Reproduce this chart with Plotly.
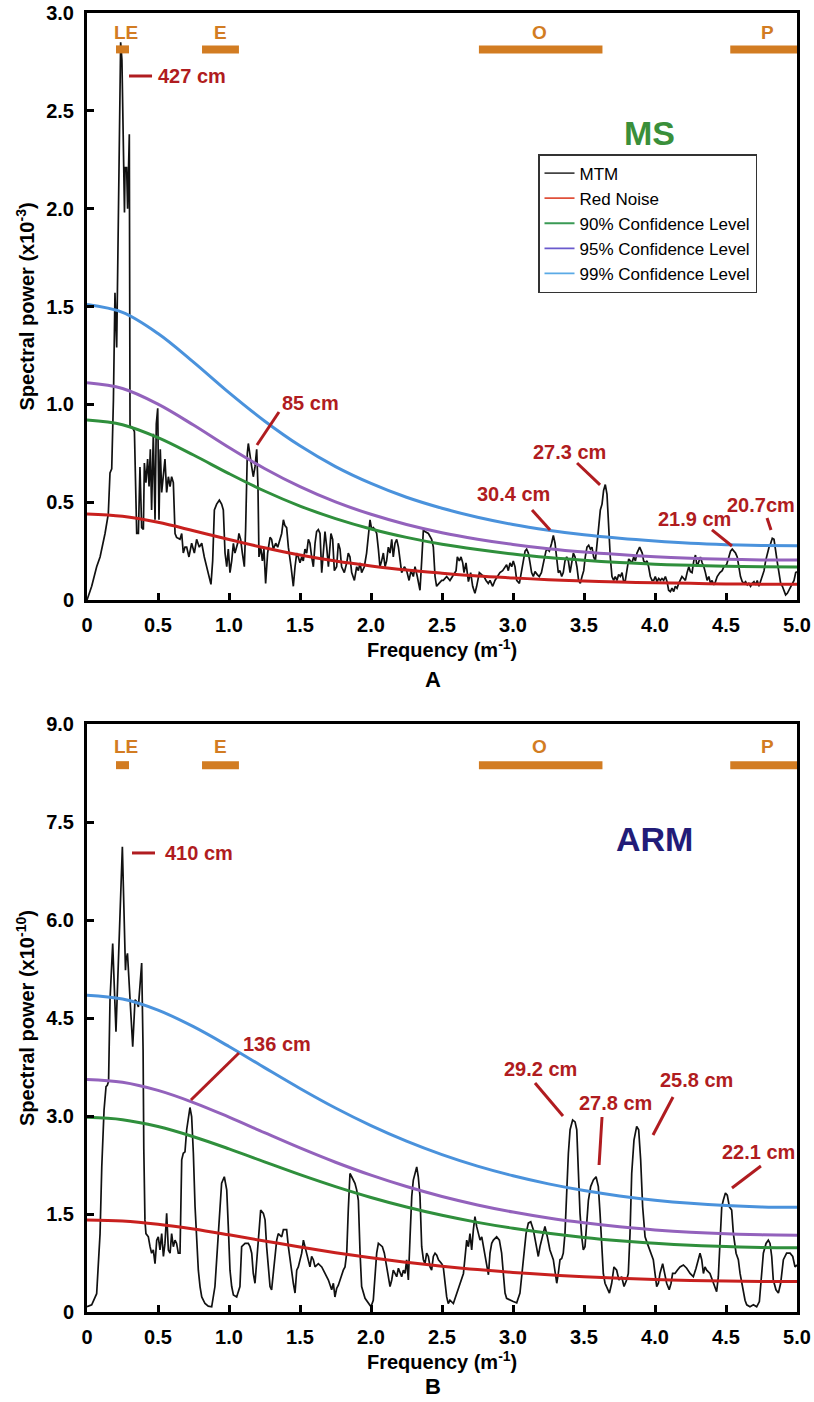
import plotly.graph_objects as go

# ---------------------------------------------------------------------------
# Data
# ---------------------------------------------------------------------------
# Frequency grid (m^-1) for the red-noise model and its confidence levels
freq_grid = [0.0, 0.25, 0.5, 0.75, 1.0, 1.25, 1.5, 1.75, 2.0, 2.25, 2.5,
             2.75, 3.0, 3.25, 3.5, 3.75, 4.0, 4.25, 4.5, 4.75, 5.0]

# Panel A - magnetic susceptibility (MS), spectral power x10^-3
ms_red_noise = [0.440, 0.428, 0.397, 0.354, 0.309, 0.267, 0.230, 0.199, 0.174, 0.153, 0.137,
                0.123, 0.113, 0.104, 0.097, 0.092, 0.088, 0.085, 0.082, 0.081, 0.081]
ms_cl90 = [0.920, 0.896, 0.830, 0.741, 0.646, 0.557, 0.480, 0.416, 0.363, 0.320, 0.285,
           0.258, 0.235, 0.217, 0.203, 0.192, 0.183, 0.177, 0.172, 0.170, 0.169]
ms_cl95 = [1.110, 1.081, 1.001, 0.894, 0.779, 0.672, 0.579, 0.501, 0.438, 0.386, 0.344,
           0.311, 0.284, 0.262, 0.245, 0.232, 0.221, 0.213, 0.208, 0.205, 0.204]
ms_cl99 = [1.510, 1.470, 1.362, 1.216, 1.060, 0.915, 0.788, 0.682, 0.596, 0.525, 0.469,
           0.423, 0.386, 0.357, 0.333, 0.315, 0.301, 0.290, 0.283, 0.279, 0.277]

ms_freq = [
    0.000, 0.033, 0.068, 0.092, 0.127, 0.150, 0.162, 0.174, 0.186, 0.197, 0.209, 0.223,
    0.237, 0.246, 0.260, 0.264, 0.268, 0.279, 0.286, 0.298, 0.303, 0.322, 0.334, 0.350,
    0.362, 0.373, 0.385, 0.397, 0.404, 0.415, 0.427, 0.437, 0.446, 0.455, 0.467, 0.479,
    0.488, 0.498, 0.507, 0.516, 0.526, 0.538, 0.549, 0.561, 0.573, 0.585, 0.596, 0.608,
    0.620, 0.631, 0.655, 0.667, 0.678, 0.690, 0.702, 0.718, 0.737, 0.756, 0.772, 0.791,
    0.808, 0.826, 0.843, 0.859, 0.873, 0.885, 0.897, 0.913, 0.932, 0.948, 0.960, 0.972,
    0.984, 0.995, 1.007, 1.019, 1.031, 1.042, 1.061, 1.070, 1.082, 1.094, 1.108, 1.117,
    1.129, 1.136, 1.148, 1.160, 1.171, 1.183, 1.195, 1.204, 1.211, 1.223, 1.235, 1.246,
    1.258, 1.272, 1.289, 1.300, 1.312, 1.329, 1.343, 1.359, 1.371, 1.383, 1.394, 1.406,
    1.418, 1.437, 1.453, 1.465, 1.477, 1.488, 1.500, 1.512, 1.523, 1.535, 1.547, 1.559,
    1.570, 1.582, 1.594, 1.606, 1.617, 1.629, 1.641, 1.653, 1.664, 1.676, 1.688, 1.700,
    1.718, 1.730, 1.742, 1.758, 1.770, 1.782, 1.793, 1.812, 1.829, 1.840, 1.852, 1.864,
    1.883, 1.899, 1.911, 1.923, 1.934, 1.953, 1.969, 1.981, 1.993, 2.005, 2.016, 2.028,
    2.040, 2.052, 2.063, 2.075, 2.087, 2.099, 2.110, 2.122, 2.134, 2.146, 2.157, 2.169,
    2.181, 2.193, 2.204, 2.216, 2.235, 2.251, 2.268, 2.282, 2.298, 2.310, 2.326, 2.345,
    2.357, 2.369, 2.380, 2.404, 2.427, 2.439, 2.451, 2.462, 2.479, 2.498, 2.509, 2.533,
    2.556, 2.580, 2.599, 2.608, 2.622, 2.634, 2.646, 2.655, 2.669, 2.686, 2.702, 2.716,
    2.732, 2.744, 2.763, 2.779, 2.796, 2.810, 2.826, 2.838, 2.857, 2.873, 2.890, 2.908,
    2.927, 2.944, 2.955, 2.967, 2.979, 2.991, 3.002, 3.014, 3.026, 3.045, 3.061, 3.073,
    3.085, 3.096, 3.108, 3.120, 3.131, 3.143, 3.155, 3.171, 3.185, 3.200, 3.213, 3.225,
    3.232, 3.241, 3.256, 3.272, 3.284, 3.296, 3.308, 3.319, 3.331, 3.343, 3.354, 3.366,
    3.378, 3.390, 3.402, 3.413, 3.425, 3.437, 3.450, 3.462, 3.474, 3.486, 3.498, 3.509,
    3.521, 3.533, 3.545, 3.556, 3.568, 3.580, 3.592, 3.603, 3.615, 3.627, 3.638, 3.650,
    3.662, 3.673, 3.685, 3.697, 3.709, 3.720, 3.732, 3.744, 3.756, 3.768, 3.779, 3.791,
    3.803, 3.815, 3.826, 3.838, 3.850, 3.862, 3.873, 3.892, 3.910, 3.920, 3.932, 3.944,
    3.955, 3.967, 3.979, 3.991, 4.002, 4.014, 4.026, 4.038, 4.049, 4.061, 4.073, 4.085,
    4.096, 4.108, 4.120, 4.132, 4.143, 4.155, 4.167, 4.179, 4.190, 4.202, 4.214, 4.226,
    4.238, 4.249, 4.261, 4.273, 4.285, 4.296, 4.308, 4.320, 4.332, 4.344, 4.355, 4.367,
    4.379, 4.391, 4.402, 4.414, 4.426, 4.438, 4.457, 4.473, 4.485, 4.504, 4.520, 4.532,
    4.544, 4.555, 4.567, 4.579, 4.591, 4.602, 4.614, 4.626, 4.638, 4.650, 4.661, 4.673,
    4.685, 4.697, 4.709, 4.720, 4.732, 4.744, 4.756, 4.768, 4.779, 4.791, 4.803, 4.815,
    4.826, 4.838, 4.850, 4.862, 4.873, 4.885, 4.897, 4.909, 4.920, 4.932, 4.944, 4.956,
    4.968, 4.979, 4.991, 5.000]
ms_power = [
    0.00, 0.07, 0.17, 0.22, 0.34, 0.44, 0.65, 0.67, 1.02, 1.57, 1.29, 2.04,
    2.85, 2.76, 2.22, 1.98, 2.21, 2.21, 2.00, 2.38, 0.89, 0.88, 0.86, 0.34,
    0.34, 0.68, 0.37, 0.36, 0.70, 0.60, 0.72, 0.58, 0.77, 0.46, 0.85, 0.41,
    0.90, 0.98, 0.41, 0.77, 0.55, 0.65, 0.72, 0.55, 0.63, 0.58, 0.63, 0.60,
    0.34, 0.32, 0.31, 0.34, 0.24, 0.27, 0.27, 0.22, 0.29, 0.24, 0.31, 0.27,
    0.29, 0.22, 0.17, 0.12, 0.08, 0.20, 0.46, 0.49, 0.51, 0.49, 0.46, 0.24,
    0.17, 0.26, 0.14, 0.20, 0.29, 0.24, 0.29, 0.34, 0.31, 0.24, 0.17, 0.36,
    0.75, 0.80, 0.73, 0.68, 0.63, 0.68, 0.77, 0.58, 0.22, 0.27, 0.20, 0.26,
    0.085, 0.24, 0.32, 0.31, 0.26, 0.29, 0.27, 0.31, 0.34, 0.41, 0.38, 0.37,
    0.27, 0.17, 0.07, 0.17, 0.24, 0.22, 0.19, 0.22, 0.20, 0.26, 0.24, 0.31,
    0.29, 0.22, 0.17, 0.29, 0.35, 0.36, 0.34, 0.14, 0.27, 0.35, 0.27, 0.17,
    0.34, 0.31, 0.15, 0.17, 0.29, 0.26, 0.17, 0.14, 0.19, 0.24, 0.22, 0.14,
    0.10, 0.17, 0.15, 0.19, 0.14, 0.17, 0.24, 0.31, 0.41, 0.36, 0.37, 0.36,
    0.34, 0.26, 0.17, 0.20, 0.24, 0.17, 0.20, 0.27, 0.24, 0.31, 0.22, 0.29,
    0.31, 0.27, 0.20, 0.14, 0.17, 0.15, 0.10, 0.15, 0.12, 0.17, 0.12, 0.05,
    0.20, 0.36, 0.35, 0.34, 0.31, 0.27, 0.12, 0.07, 0.085, 0.10, 0.10, 0.12,
    0.10, 0.13, 0.15, 0.22, 0.20, 0.22, 0.19, 0.14, 0.19, 0.094, 0.14, 0.07,
    0.034, 0.07, 0.14, 0.13, 0.12, 0.10, 0.085, 0.10, 0.07, 0.10, 0.12, 0.14,
    0.15, 0.17, 0.18, 0.15, 0.19, 0.17, 0.20, 0.17, 0.10, 0.085, 0.15, 0.22,
    0.25, 0.26, 0.24, 0.19, 0.14, 0.12, 0.145, 0.13, 0.12, 0.14, 0.19, 0.22,
    0.25, 0.26, 0.25, 0.29, 0.33, 0.29, 0.22, 0.14, 0.15, 0.12, 0.14, 0.20,
    0.22, 0.20, 0.14, 0.20, 0.24, 0.22, 0.17, 0.10, 0.085, 0.12, 0.15, 0.22,
    0.27, 0.28, 0.26, 0.27, 0.22, 0.20, 0.31, 0.37, 0.46, 0.49, 0.56, 0.59,
    0.54, 0.37, 0.22, 0.12, 0.10, 0.12, 0.10, 0.13, 0.12, 0.14, 0.094, 0.10,
    0.17, 0.21, 0.20, 0.19, 0.22, 0.20, 0.24, 0.27, 0.24, 0.20, 0.19, 0.20,
    0.17, 0.12, 0.10, 0.10, 0.12, 0.094, 0.11, 0.10, 0.11, 0.10, 0.12, 0.094,
    0.05, 0.043, 0.06, 0.043, 0.07, 0.06, 0.085, 0.10, 0.12, 0.11, 0.10, 0.14,
    0.17, 0.145, 0.14, 0.20, 0.23, 0.17, 0.20, 0.22, 0.19, 0.17, 0.14, 0.10,
    0.12, 0.085, 0.10, 0.077, 0.094, 0.12, 0.14, 0.15, 0.17, 0.18, 0.22, 0.25,
    0.26, 0.25, 0.24, 0.22, 0.17, 0.12, 0.094, 0.085, 0.094, 0.077, 0.085, 0.07,
    0.085, 0.094, 0.077, 0.10, 0.07, 0.094, 0.12, 0.15, 0.20, 0.24, 0.27, 0.29,
    0.315, 0.31, 0.26, 0.19, 0.14, 0.085, 0.07, 0.043, 0.026, 0.034, 0.05, 0.07,
    0.085, 0.10, 0.14, 0.145]

# Panel B - anhysteretic remanent magnetisation (ARM), spectral power x10^-10
arm_red_noise = [1.410, 1.393, 1.343, 1.270, 1.181, 1.087, 0.995, 0.908, 0.829, 0.760, 0.700,
                 0.649, 0.606, 0.570, 0.540, 0.516, 0.498, 0.483, 0.474, 0.468, 0.466]
arm_cl90 = [2.980, 2.944, 2.839, 2.683, 2.497, 2.298, 2.102, 1.919, 1.753, 1.607, 1.480,
            1.372, 1.281, 1.205, 1.142, 1.092, 1.052, 1.022, 1.001, 0.989, 0.985]
arm_cl95 = [3.560, 3.517, 3.392, 3.206, 2.983, 2.745, 2.511, 2.292, 2.094, 1.920, 1.768,
            1.639, 1.530, 1.439, 1.365, 1.304, 1.257, 1.221, 1.196, 1.181, 1.176]
arm_cl99 = [4.850, 4.791, 4.621, 4.367, 4.064, 3.740, 3.421, 3.122, 2.853, 2.615, 2.409,
            2.233, 2.085, 1.961, 1.859, 1.777, 1.712, 1.663, 1.629, 1.609, 1.602]

arm_freq = [
    0.000, 0.033, 0.068, 0.092, 0.104, 0.120, 0.134, 0.143, 0.152, 0.162, 0.181, 0.204,
    0.249, 0.271, 0.275, 0.285, 0.322, 0.338, 0.350, 0.362, 0.385, 0.395, 0.400, 0.408,
    0.415, 0.432, 0.444, 0.455, 0.467, 0.479, 0.491, 0.502, 0.514, 0.526, 0.538, 0.549,
    0.561, 0.573, 0.585, 0.596, 0.608, 0.620, 0.631, 0.643, 0.655, 0.667, 0.678, 0.690,
    0.702, 0.714, 0.725, 0.737, 0.749, 0.761, 0.772, 0.784, 0.796, 0.808, 0.831, 0.854,
    0.878, 0.901, 0.925, 0.948, 0.967, 0.984, 0.995, 1.007, 1.019, 1.031, 1.054, 1.077,
    1.089, 1.113, 1.136, 1.148, 1.160, 1.171, 1.183, 1.195, 1.207, 1.223, 1.242, 1.254,
    1.265, 1.277, 1.289, 1.300, 1.312, 1.324, 1.336, 1.347, 1.371, 1.383, 1.406, 1.418,
    1.430, 1.441, 1.453, 1.465, 1.477, 1.488, 1.500, 1.512, 1.524, 1.535, 1.547, 1.559,
    1.570, 1.582, 1.594, 1.606, 1.629, 1.653, 1.676, 1.700, 1.723, 1.735, 1.746, 1.758,
    1.770, 1.782, 1.793, 1.805, 1.817, 1.829, 1.840, 1.852, 1.864, 1.887, 1.899, 1.911,
    1.923, 1.934, 1.958, 1.981, 2.000, 2.016, 2.028, 2.040, 2.052, 2.063, 2.080, 2.094,
    2.110, 2.122, 2.134, 2.146, 2.157, 2.169, 2.181, 2.193, 2.204, 2.216, 2.228, 2.240,
    2.251, 2.263, 2.275, 2.287, 2.298, 2.310, 2.322, 2.333, 2.345, 2.357, 2.369, 2.380,
    2.392, 2.404, 2.416, 2.427, 2.439, 2.451, 2.463, 2.475, 2.498, 2.509, 2.533, 2.544,
    2.556, 2.580, 2.603, 2.627, 2.651, 2.674, 2.686, 2.697, 2.709, 2.721, 2.732, 2.744,
    2.756, 2.768, 2.780, 2.791, 2.815, 2.827, 2.838, 2.850, 2.862, 2.885, 2.904, 2.920,
    2.932, 2.944, 2.955, 2.979, 3.002, 3.026, 3.049, 3.073, 3.092, 3.108, 3.125, 3.143,
    3.162, 3.178, 3.190, 3.209, 3.225, 3.242, 3.260, 3.284, 3.308, 3.319, 3.331, 3.343,
    3.354, 3.366, 3.378, 3.390, 3.402, 3.420, 3.437, 3.449, 3.460, 3.472, 3.484, 3.495,
    3.507, 3.519, 3.531, 3.547, 3.566, 3.585, 3.601, 3.613, 3.625, 3.636, 3.648, 3.660,
    3.679, 3.695, 3.711, 3.730, 3.746, 3.765, 3.782, 3.800, 3.812, 3.824, 3.836, 3.852,
    3.871, 3.885, 3.899, 3.913, 3.930, 3.946, 3.965, 3.988, 4.000, 4.012, 4.024, 4.035,
    4.054, 4.070, 4.082, 4.100, 4.113, 4.124, 4.141, 4.157, 4.176, 4.200, 4.223, 4.247,
    4.270, 4.289, 4.305, 4.317, 4.329, 4.341, 4.352, 4.364, 4.387, 4.411, 4.423, 4.434,
    4.446, 4.458, 4.470, 4.481, 4.496, 4.509, 4.524, 4.540, 4.552, 4.571, 4.587, 4.599,
    4.617, 4.634, 4.646, 4.669, 4.693, 4.716, 4.735, 4.747, 4.763, 4.782, 4.798, 4.810,
    4.822, 4.833, 4.852, 4.869, 4.885, 4.904, 4.927, 4.951, 4.970, 4.986, 5.000]
arm_power = [
    0.08, 0.11, 0.28, 1.20, 2.22, 3.09, 3.45, 3.47, 3.53, 4.77, 5.64, 4.29,
    7.12, 5.23, 5.39, 5.49, 4.06, 4.78, 4.75, 4.67, 5.34, 4.00, 2.50, 1.41,
    1.20, 1.15, 1.00, 0.90, 0.95, 0.74, 1.10, 1.15, 0.95, 1.20, 0.85, 1.05,
    1.51, 0.95, 0.90, 1.20, 1.00, 1.10, 1.05, 0.90, 0.90, 2.33, 2.43, 2.45,
    2.79, 2.99, 3.13, 2.99, 2.43, 1.61, 1.15, 0.64, 0.39, 0.23, 0.13, 0.09,
    0.08, 0.39, 1.20, 1.97, 2.07, 1.87, 1.31, 0.64, 0.39, 0.26, 0.23, 0.39,
    1.00, 1.05, 1.05, 1.00, 0.90, 0.59, 0.44, 0.74, 1.15, 1.56, 1.51, 1.41,
    1.00, 0.64, 0.39, 0.34, 0.59, 0.90, 1.10, 1.20, 1.15, 1.26, 1.26, 1.00,
    0.80, 0.59, 0.44, 0.29, 0.64, 0.69, 0.80, 0.90, 1.10, 1.00, 0.90, 0.80,
    0.69, 0.85, 0.80, 0.69, 0.74, 0.69, 0.59, 0.49, 0.34, 0.44, 0.23, 0.36,
    0.41, 0.49, 0.59, 0.64, 0.69, 0.90, 1.56, 2.12, 2.07, 1.97, 1.87, 1.71,
    0.90, 0.39, 0.21, 0.13, 0.08, 0.18, 0.59, 0.90, 1.05, 1.03, 1.00, 0.90,
    0.69, 0.49, 0.39, 0.49, 0.64, 0.59, 0.54, 0.67, 0.59, 0.54, 0.64, 0.59,
    0.80, 0.49, 1.15, 1.77, 2.02, 2.12, 2.22, 2.07, 1.77, 1.00, 0.80, 0.74,
    0.90, 0.85, 0.69, 0.64, 0.85, 0.90, 0.87, 0.80, 0.74, 0.69, 0.23, 0.13,
    0.18, 0.13, 0.29, 0.44, 0.59, 1.10, 1.00, 1.20, 0.95, 1.26, 1.46, 1.31,
    1.20, 1.10, 1.15, 1.00, 0.69, 0.57, 0.90, 1.05, 1.10, 1.15, 1.10, 0.90,
    0.59, 0.29, 0.21, 0.18, 0.16, 0.14, 0.29, 0.80, 1.20, 1.36, 1.38, 1.26,
    1.05, 0.85, 1.00, 1.15, 1.31, 1.15, 0.95, 0.80, 0.44, 0.59, 0.80, 0.82,
    0.90, 1.20, 1.92, 2.43, 2.79, 2.94, 2.91, 2.79, 2.17, 1.51, 1.15, 0.95,
    1.00, 1.31, 1.71, 1.92, 2.02, 2.07, 1.92, 1.51, 0.90, 0.59, 0.44, 0.39,
    0.29, 0.44, 0.69, 0.64, 0.49, 0.54, 0.39, 0.49, 0.59, 1.20, 2.12, 2.63,
    2.84, 2.79, 2.33, 1.61, 1.15, 1.05, 0.95, 0.80, 0.59, 0.39, 0.44, 0.59,
    0.74, 0.59, 0.44, 0.34, 0.44, 0.59, 0.59, 0.64, 0.69, 0.72, 0.67, 0.59,
    0.54, 0.67, 0.80, 0.90, 0.80, 0.59, 0.69, 0.64, 0.59, 0.44, 0.39, 0.31,
    0.54, 1.10, 1.61, 1.71, 1.82, 1.79, 1.61, 1.56, 1.20, 0.90, 0.80, 0.59,
    0.39, 0.18, 0.11, 0.08, 0.11, 0.08, 0.16, 0.49, 0.90, 1.05, 1.10, 1.05,
    0.85, 0.49, 0.34, 0.29, 0.44, 0.80, 0.90, 0.90, 0.85, 0.69, 0.72]

# Time-interval bars along the top of each panel (frequency ranges)
band_names = ["LE", "E", "O", "P"]
band_start = [0.204, 0.81, 2.76, 4.53]
band_end = [0.296, 1.07, 3.63, 5.0]

# Significant peaks (period labels)
ms_peak_labels = ["427 cm", "85 cm", "30.4 cm", "27.3 cm", "21.9 cm", "20.7cm"]
arm_peak_labels = ["410 cm", "136 cm", "29.2 cm", "27.8 cm", "25.8 cm", "22.1 cm"]

# Legend entries
legend_names = ["MTM", "Red Noise", "90% Confidence Level",
                "95% Confidence Level", "99% Confidence Level"]

# Axis ticks
x_ticks = [0, 0.5, 1.0, 1.5, 2.0, 2.5, 3.0, 3.5, 4.0, 4.5, 5.0]
x_tick_text = ["0", "0.5", "1.0", "1.5", "2.0", "2.5", "3.0", "3.5", "4.0", "4.5", "5.0"]
ms_y_ticks = [0, 0.5, 1.0, 1.5, 2.0, 2.5, 3.0]
ms_y_tick_text = ["0", "0.5", "1.0", "1.5", "2.0", "2.5", "3.0"]
arm_y_ticks = [0, 1.5, 3.0, 4.5, 6.0, 7.5, 9.0]
arm_y_tick_text = ["0", "1.5", "3.0", "4.5", "6.0", "7.5", "9.0"]

# ---------------------------------------------------------------------------
# Styling
# ---------------------------------------------------------------------------
W, H = 814, 1402
FONT = "Liberation Sans, Arial, Helvetica, sans-serif"
C_MTM = "#111111"
C_RED = "#C8201E"
C_90 = "#2F8F3C"
C_95 = "#9362BC"
C_99 = "#4A92DC"
C_LABEL = "#B01C20"
C_BAND = "#D27C22"
# slightly lighter swatches used in the legend box
LEGEND_COLORS = ["#444444", "#E0503A", "#3A9A55", "#6A5ACD", "#5AAAE6"]

PLOT_L, PLOT_R = 87, 797
A_TOP, A_BOT = 13, 600
B_TOP, B_BOT = 724, 1312


def px(x):
    return x / W


def py(y):
    return 1 - y / H


fig = go.Figure()

curve_colors = [C_RED, C_90, C_95, C_99]

for xa, ya, freq, power, curves in (
        ("x", "y", ms_freq, ms_power, [ms_red_noise, ms_cl90, ms_cl95, ms_cl99]),
        ("x2", "y2", arm_freq, arm_power, [arm_red_noise, arm_cl90, arm_cl95, arm_cl99])):
    fig.add_trace(go.Scatter(x=freq, y=power, mode="lines", name=legend_names[0],
                             showlegend=False, line=dict(color=C_MTM, width=1.7),
                             xaxis=xa, yaxis=ya))
    for name, col, vals in zip(legend_names[1:], curve_colors, curves):
        fig.add_trace(go.Scatter(x=freq_grid, y=vals, mode="lines", name=name,
                                 showlegend=False,
                                 line=dict(color=col, width=3, shape="spline", smoothing=1.0),
                                 xaxis=xa, yaxis=ya))

# Legend swatches (thin lines, as in the key box)
for name, col in zip(legend_names, LEGEND_COLORS):
    fig.add_trace(go.Scatter(x=[None], y=[None], mode="lines", name=name,
                             line=dict(color=col, width=1.8), xaxis="x", yaxis="y",
                             showlegend=True, hoverinfo="skip"))

tick_font = dict(family=FONT, size=20, color="black", weight="bold")
axis_common = dict(showline=True, linecolor="black", linewidth=3, mirror=True,
                   ticks="inside", ticklen=7, tickwidth=2.5, tickcolor="black",
                   showgrid=False, zeroline=False, tickfont=tick_font, fixedrange=True)

fig.update_layout(
    width=W, height=H,
    margin=dict(l=0, r=0, t=0, b=0),
    paper_bgcolor="white", plot_bgcolor="white",
    template="none",
    xaxis=dict(domain=[px(PLOT_L), px(PLOT_R)], anchor="y", range=[0, 5],
               tickvals=x_ticks, ticktext=x_tick_text, ticklabelstandoff=5, **axis_common),
    yaxis=dict(domain=[py(A_BOT), py(A_TOP)], anchor="x", range=[0, 3],
               tickvals=ms_y_ticks, ticktext=ms_y_tick_text, ticklabelstandoff=6, **axis_common),
    xaxis2=dict(domain=[px(PLOT_L), px(PLOT_R)], anchor="y2", range=[0, 5],
                tickvals=x_ticks, ticktext=x_tick_text, ticklabelstandoff=5, **axis_common),
    yaxis2=dict(domain=[py(B_BOT), py(B_TOP)], anchor="x2", range=[0, 9],
                tickvals=arm_y_ticks, ticktext=arm_y_tick_text, ticklabelstandoff=6, **axis_common),
    showlegend=True,
    legend=dict(x=px(538), y=py(154), xanchor="left", yanchor="top",
                bgcolor="white", bordercolor="#333333", borderwidth=1.5,
                font=dict(family=FONT, size=17, color="black"),
                tracegroupgap=0, itemwidth=30),
)

annotations = []
shapes = []

# Axis titles and panel letters
title_font = dict(family=FONT, size=20, color="black", weight="bold")
for top, bot, ttl in [(A_TOP, A_BOT, "Spectral power (x10<sup>-3</sup>)"),
                      (B_TOP, B_BOT, "Spectral power (x10<sup>-10</sup>)")]:
    annotations.append(dict(text=ttl, xref="paper", yref="paper", x=px(25), y=py((top + bot) / 2),
                            textangle=-90, showarrow=False, font=title_font,
                            xanchor="center", yanchor="middle"))
for ypix in (648, 1360):
    annotations.append(dict(text="Frequency (m<sup>-1</sup>)", xref="paper", yref="paper",
                            x=px((PLOT_L + PLOT_R) / 2), y=py(ypix), showarrow=False,
                            font=title_font, xanchor="center", yanchor="middle"))
letter_font = dict(family=FONT, size=22, color="black", weight="bold")
annotations.append(dict(text="A", xref="paper", yref="paper", x=px(433), y=py(679),
                        showarrow=False, font=letter_font, xanchor="center", yanchor="middle"))
annotations.append(dict(text="B", xref="paper", yref="paper", x=px(433), y=py(1401),
                        showarrow=False, font=letter_font, xanchor="center", yanchor="bottom"))

# Dataset names
annotations.append(dict(text="MS", xref="x", yref="y", x=3.958, y=2.387, showarrow=False,
                        font=dict(family=FONT, size=34, color="#3A8F3A", weight="bold")))
annotations.append(dict(text="ARM", xref="x2", yref="y2", x=3.996, y=7.24, showarrow=False,
                        font=dict(family=FONT, size=34, color="#221C78", weight="bold")))

# Interval bars
band_label_x = [0.273, 0.941, 3.19, 4.79]
for xr, yr, bar_y, lab_y in (("x", "y", 2.814, 2.898), ("x2", "y2", 8.37, 8.65)):
    for name, s, e, lx in zip(band_names, band_start, band_end, band_label_x):
        shapes.append(dict(type="line", xref=xr, yref=yr, x0=s, x1=e, y0=bar_y, y1=bar_y,
                           line=dict(color=C_BAND, width=8)))
        annotations.append(dict(text=name, xref=xr, yref=yr, x=lx, y=lab_y, showarrow=False,
                                font=dict(family=FONT, size=19, color=C_BAND, weight="bold"),
                                xanchor="center", yanchor="middle"))

# Peak labels with leader lines: (text x, text y, anchor, line x0, y0, x1, y1)
label_font = dict(family=FONT, size=20, color=C_LABEL, weight="bold")
ms_label_pos = [
    (0.486, 2.678, "left", 0.296, 2.678, 0.458, 2.678),
    (1.577, 1.007, "center", 1.352, 0.961, 1.197, 0.792),
    (3.007, 0.542, "center", 3.134, 0.460, 3.261, 0.358),
    (3.401, 0.756, "center", 3.451, 0.700, 3.613, 0.588),
    (4.278, 0.414, "center", 4.401, 0.358, 4.542, 0.276),
    (4.743, 0.486, "center", 4.789, 0.419, 4.817, 0.358),
]
arm_label_pos = [
    (0.535, 7.026, "left", 0.317, 7.026, 0.479, 7.026),
    (1.335, 4.102, "center", 1.070, 3.964, 0.732, 3.245),
    (3.194, 3.720, "center", 3.155, 3.505, 3.352, 3.000),
    (3.725, 3.199, "center", 3.627, 2.985, 3.606, 2.250),
    (4.292, 3.551, "center", 4.127, 3.291, 3.986, 2.709),
    (4.732, 2.449, "center", 4.746, 2.235, 4.542, 1.898),
]
for xr, yr, labels, positions in (("x", "y", ms_peak_labels, ms_label_pos),
                                  ("x2", "y2", arm_peak_labels, arm_label_pos)):
    for text, (tx, ty, anc, lx0, ly0, lx1, ly1) in zip(labels, positions):
        annotations.append(dict(text=text, xref=xr, yref=yr, x=tx, y=ty, showarrow=False,
                                font=label_font, xanchor=anc, yanchor="middle"))
        shapes.append(dict(type="line", xref=xr, yref=yr, x0=lx0, y0=ly0, x1=lx1, y1=ly1,
                           line=dict(color=C_LABEL, width=3)))

fig.update_layout(annotations=annotations, shapes=shapes)

fig.write_html("out.html")
